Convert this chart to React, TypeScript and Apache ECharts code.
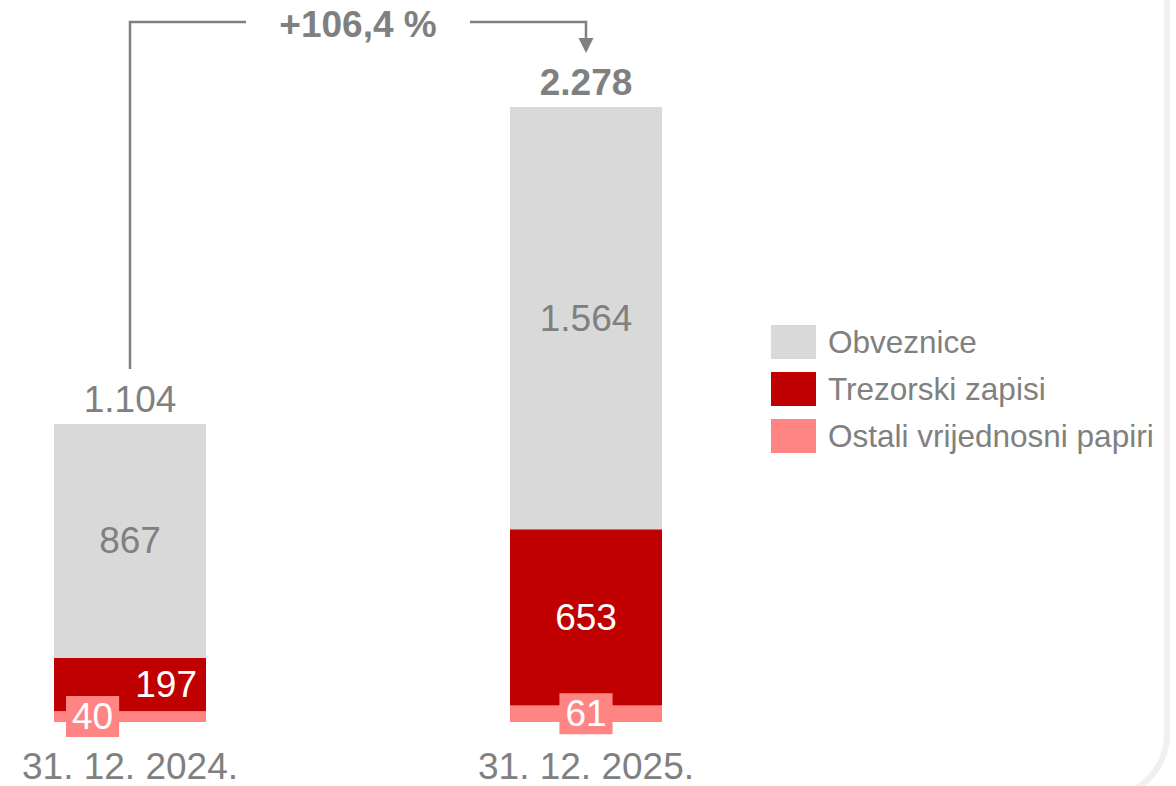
import React, { useEffect, useRef } from "react";
import * as echarts from "echarts";

const categories = ["31. 12. 2024.", "31. 12. 2025."];
const obveznice = [867, 1564];
const trezorski = [197, 653];
const ostali = [40, 61];
const totals = [1104, 2278];
const changeLabel = "+106,4 %";
const legendNames = ["Obveznice", "Trezorski zapisi", "Ostali vrijednosni papiri"];

const GRAY_TEXT = "#808080";
const C_OBV = "#D9D9D9";
const C_TREZ = "#C00000";
const C_OST = "#FF8585";
const FONT = "'Liberation Sans', Arial, sans-serif";

const fmt = (v: number) => String(v).replace(/\B(?=(\d{3})+(?!\d))/g, ".");

export default function App() {
  const ref = useRef<HTMLDivElement>(null);
  useEffect(() => {
    document.body.style.margin = "0";
    if (!ref.current) return;
    const chart = echarts.init(ref.current, undefined, { renderer: "svg" });
    const labelBase = { fontFamily: FONT, fontSize: 37 };
    chart.setOption({
      animation: false,
      textStyle: { fontFamily: FONT },
      grid: { left: 130, width: 456, top: 107, bottom: 64 },
      legend: {
        orient: "vertical",
        left: 771,
        top: 325,
        padding: 0,
        itemWidth: 45,
        itemHeight: 34,
        itemGap: 13,
        icon: "rect",
        data: legendNames,
        selectedMode: false,
        textStyle: { fontFamily: FONT, fontSize: 31.5, color: GRAY_TEXT, padding: [0, 0, 0, 7] },
      },
      xAxis: {
        type: "category",
        boundaryGap: false,
        data: categories,
        axisLine: { show: false },
        axisTick: { show: false },
        axisLabel: { ...labelBase, color: GRAY_TEXT, margin: 29, lineHeight: 30 },
      },
      yAxis: { type: "value", min: 0, max: totals[1], show: false, splitLine: { show: false } },
      series: [
        {
          name: legendNames[2],
          type: "bar",
          stack: "a",
          barWidth: 152,
          itemStyle: { color: C_OST },
          label: {
            show: true,
            ...labelBase,
            color: "#FFFFFF",
            backgroundColor: C_OST,
            padding: [3, 6, 2, 6],
            lineHeight: 36,
          },
          data: ostali.map((v, i) => ({
            value: v,
            label: i === 0 ? { position: "insideLeft", distance: 12 } : { position: "inside" },
          })),
        },
        {
          name: legendNames[1],
          type: "bar",
          stack: "a",
          barWidth: 152,
          itemStyle: { color: C_TREZ },
          label: { show: true, ...labelBase, color: "#FFFFFF" },
          data: trezorski.map((v, i) => ({
            value: v,
            label: i === 0 ? { position: "insideRight", distance: 9 } : { position: "inside" },
          })),
        },
        {
          name: legendNames[0],
          type: "bar",
          stack: "a",
          barWidth: 152,
          itemStyle: { color: C_OBV },
          label: {
            show: true,
            position: "inside",
            ...labelBase,
            color: GRAY_TEXT,
            formatter: (p: any) => fmt(p.value),
          },
          data: obveznice,
        },
        {
          name: "Ukupno",
          type: "bar",
          barGap: "-100%",
          barWidth: 152,
          silent: true,
          z: 1,
          itemStyle: { color: "rgba(0,0,0,0)" },
          label: {
            show: true,
            position: "top",
            distance: 6,
            ...labelBase,
            color: GRAY_TEXT,
            formatter: (p: any) => fmt(p.value),
          },
          data: totals.map((v, i) => ({
            value: v,
            label: { fontWeight: i === 1 ? "bold" : "normal" },
          })),
        },
      ],
    });

    const x1 = chart.convertToPixel({ xAxisIndex: 0 }, categories[0]) as number;
    const x2 = chart.convertToPixel({ xAxisIndex: 0 }, categories[1]) as number;
    const yTop1 = chart.convertToPixel({ yAxisIndex: 0 }, totals[0]) as number;
    const yTop2 = chart.convertToPixel({ yAxisIndex: 0 }, totals[1]) as number;
    const lineY = 22;
    const mid = (x1 + x2) / 2;
    const lineStyle = { stroke: GRAY_TEXT, lineWidth: 2.5, fill: "none" };
    const tipY = yTop2 - 54;

    chart.setOption({
      graphic: [
        {
          type: "rect",
          silent: true,
          shape: { x: -200, y: -200, width: 1367, height: 998.5, r: 65 },
          style: { fill: "none", stroke: "#F0F0F0", lineWidth: 6 },
        },
        {
          type: "polyline",
          silent: true,
          shape: { points: [[x1, yTop1 - 55], [x1, lineY], [mid - 112, lineY]] },
          style: lineStyle,
        },
        {
          type: "polyline",
          silent: true,
          shape: { points: [[mid + 112, lineY], [x2, lineY], [x2, tipY - 14]] },
          style: lineStyle,
        },
        {
          type: "polygon",
          silent: true,
          shape: { points: [[x2 - 7.5, tipY - 15], [x2 + 7.5, tipY - 15], [x2, tipY]] },
          style: { fill: GRAY_TEXT },
        },
        {
          type: "text",
          silent: true,
          x: mid,
          y: lineY + 2,
          style: {
            text: changeLabel,
            fontFamily: FONT,
            fontSize: 37,
            fontWeight: "bold",
            fill: GRAY_TEXT,
            align: "center",
            verticalAlign: "middle",
          },
        },
      ],
    });

    return () => chart.dispose();
  }, []);
  return <div ref={ref} style={{ width: 1176, height: 786 }} />;
}
